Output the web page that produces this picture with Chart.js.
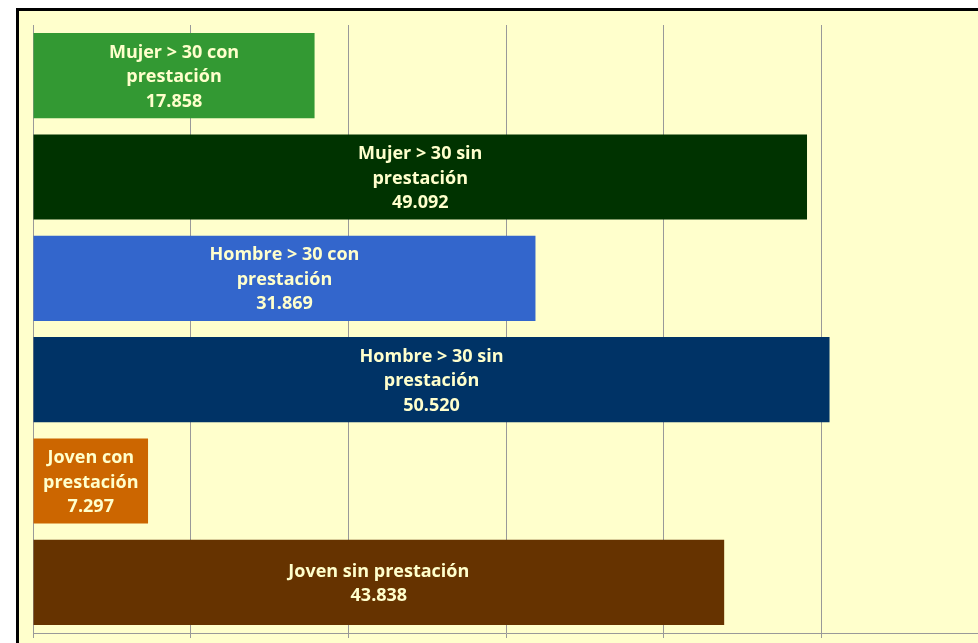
<!DOCTYPE html>
<html>
<head>
<meta charset="utf-8">
<script src="https://cdn.jsdelivr.net/npm/chart.js@4.4.1/dist/chart.umd.min.js"></script>
<style>
  html, body { margin: 0; padding: 0; background: #fff; overflow: hidden; }
  #frame {
    position: absolute; left: 16px; top: 8px;
    width: 1000px; height: 700px;
    border-left: 3px solid #000; border-top: 3px solid #000;
    background: #FFFFCC;
  }
  #chart { position: absolute; left: 0; top: 0; }
</style>
</head>
<body>
<div id="frame"><canvas id="chart" width="970" height="627"></canvas></div>
<script>
// categories, top to bottom
const categories = [
  ['Mujer > 30 con', 'prestación'],
  ['Mujer > 30 sin', 'prestación'],
  ['Hombre > 30 con', 'prestación'],
  ['Hombre > 30 sin', 'prestación'],
  ['Joven con', 'prestación'],
  ['Joven sin prestación']
];
const values = [17858, 49092, 31869, 50520, 7297, 43838];
const barColors = ['#339933', '#003300', '#3366CC', '#003366', '#CC6600', '#663300'];
const axisMax = 60000;
const axisStep = 10000;

function fmt(v) {
  return String(v).replace(/\B(?=(\d{3})+(?!\d))/g, '.');
}

// text inside each bar: category lines + value
const barLabels = {
  id: 'barLabels',
  afterDatasetsDraw(chart) {
    const c = chart.ctx;
    const meta = chart.getDatasetMeta(0);
    c.save();
    c.fillStyle = '#FFFFCC';
    c.font = 'bold 18px "Open Sans"';
    c.textAlign = 'center';
    c.textBaseline = 'middle';
    const lh = 24.5;
    meta.data.forEach((bar, i) => {
      const lines = categories[i].concat([fmt(values[i])]);
      const cx = (bar.x + bar.base) / 2;
      const y0 = bar.y + 1.5 - (lines.length - 1) * lh / 2;
      lines.forEach((t, j) => c.fillText(t, cx, y0 + j * lh));
    });
    c.restore();
  }
};

new Chart(document.getElementById('chart').getContext('2d'), {
  type: 'bar',
  data: {
    labels: categories,
    datasets: [{
      data: values,
      backgroundColor: barColors,
      borderWidth: 0,
      barPercentage: 0.84,
      categoryPercentage: 1
    }]
  },
  options: {
    indexAxis: 'y',
    responsive: false,
    animation: false,
    layout: { padding: { top: 14, left: 14, right: 10, bottom: 0 } },
    plugins: { legend: { display: false }, tooltip: { enabled: false } },
    scales: {
      x: {
        min: 0, max: axisMax,
        ticks: { display: false, stepSize: axisStep },
        grid: { color: '#999999', tickLength: 5, lineWidth: 1 },
        border: { color: '#999999' }
      },
      y: { display: false }
    }
  },
  plugins: [barLabels]
});
</script>
</body>
</html>
